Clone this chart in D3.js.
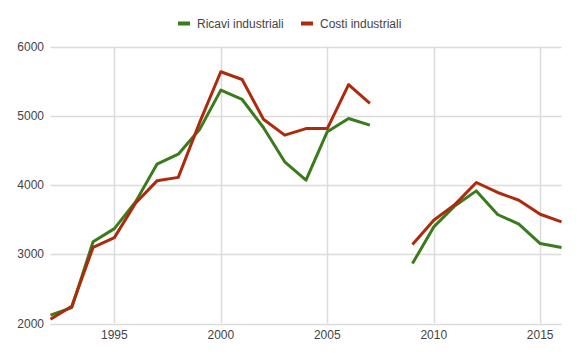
<!DOCTYPE html>
<html><head><meta charset="utf-8">
<script src="https://cdn.jsdelivr.net/npm/d3@7"></script>
<style>body{margin:0;background:#fff}svg{display:block}text{font-family:"Liberation Sans",Arial,sans-serif}</style>
</head><body>
<svg id="c" width="580" height="359"></svg>
<script>
const years = [1992,1993,1994,1995,1996,1997,1998,1999,2000,2001,2002,2003,2004,2005,2006,2007,2008,2009,2010,2011,2012,2013,2014,2015,2016];
const ricavi = [2120,2230,3180,3370,3760,4300,4445,4800,5370,5235,4830,4335,4070,4770,4960,4865,null,2866,3395,3700,3915,3574,3434,3155,3097];
const costi  = [2060,2250,3100,3240,3740,4060,4110,4900,5635,5523,4950,4720,4815,4815,5450,5177,null,3140,3490,3720,4036,3892,3780,3578,3467];
const seriesNames = ["Ricavi industriali","Costi industriali"];
const seriesColors = ["#3a7b1e","#ae2a0c"];
const yTicks = [2000,3000,4000,5000,6000];
const xTicks = [1995,2000,2005,2010,2015];

(function(){
const svg = d3.select("#c");
const mL = 50.5, mR = 561.5, mT = 46.5, mB = 323.5;
const x = d3.scaleLinear().domain([1992,2016]).range([mL,mR]);
const y = d3.scaleLinear().domain([2000,6000]).range([mB,mT]);

const grid = svg.append("g");
grid.selectAll("line.h").data(yTicks).join("line")
  .attr("x1",mL).attr("x2",mR)
  .attr("y1",d=>Math.round(y(d))+0.5).attr("y2",d=>Math.round(y(d))+0.5)
  .attr("stroke","#dcdcdc").attr("stroke-width",1.5);
grid.selectAll("line.v").data(xTicks).join("line")
  .attr("x1",d=>Math.round(x(d))+0.5).attr("x2",d=>Math.round(x(d))+0.5)
  .attr("y1",mT).attr("y2",mB)
  .attr("stroke","#dcdcdc").attr("stroke-width",1.5);

svg.append("g").selectAll("text").data(yTicks).join("text")
  .attr("x",44).attr("y",d=>y(d)).attr("dy","0.35em")
  .attr("text-anchor","end").attr("font-size",12).attr("fill","#444")
  .text(d=>d);
svg.append("g").selectAll("text").data(xTicks).join("text")
  .attr("x",d=>x(d)).attr("y",339)
  .attr("text-anchor","middle").attr("font-size",12).attr("fill","#444")
  .text(d=>d);

const line = d3.line().defined(d=>d[1]!=null).x(d=>x(d[0])).y(d=>y(d[1]));
[ricavi,costi].forEach((vals,i)=>{
  svg.append("path").datum(years.map((yr,j)=>[yr,vals[j]]))
    .attr("fill","none").attr("stroke",seriesColors[i]).attr("stroke-width",3)
    .attr("stroke-linejoin","round").attr("d",line);
});

const legX = [178,301];
const lg = svg.append("g");
seriesNames.forEach((n,i)=>{
  lg.append("rect").attr("x",legX[i]).attr("y",21.5).attr("width",12).attr("height",4)
    .attr("fill",seriesColors[i]);
  lg.append("text").attr("x",legX[i]+19).attr("y",23.5).attr("dy","0.35em")
    .attr("font-size",12).attr("fill","#444").text(n);
});
})();
</script>
</body></html>
